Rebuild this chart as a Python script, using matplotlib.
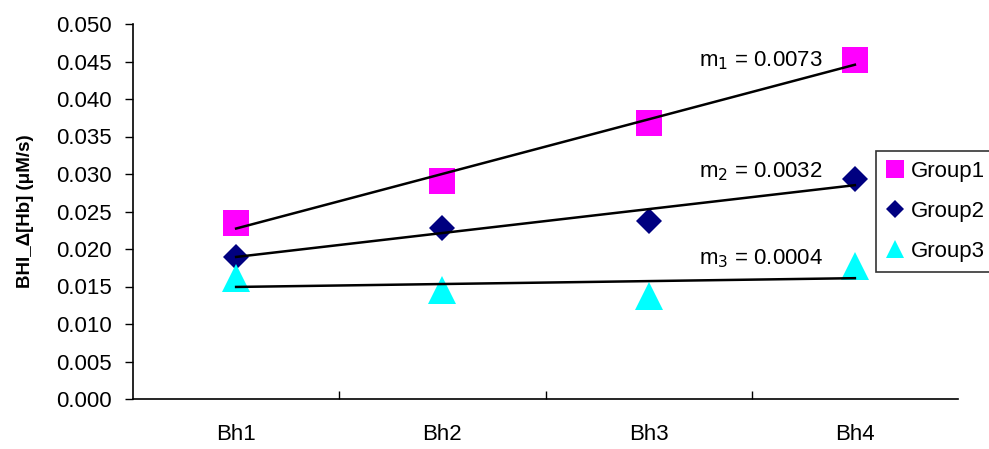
import numpy as np
import matplotlib.pyplot as plt

plt.rcParams['font.family'] = ['Liberation Sans', 'DejaVu Sans']

categories = ["Bh1", "Bh2", "Bh3", "Bh4"]
group1 = [0.0235, 0.0291, 0.0368, 0.0452]
group2 = [0.0190, 0.0228, 0.0238, 0.0293]
group3 = [0.0161, 0.0146, 0.0137, 0.0177]
slope_labels = ["m$_1$ = 0.0073", "m$_2$ = 0.0032", "m$_3$ = 0.0004"]
label_y = [0.0443, 0.0295, 0.0179]

fig = plt.figure(figsize=(9.89, 4.49), dpi=100)
ax = fig.add_axes([133 / 989, 1 - 399 / 449, 825 / 989, 375 / 449])

x = np.arange(len(categories)) + 0.5
series = [
    ("Group1", group1, "s", "#FF00FF", 18.5),
    ("Group2", group2, "D", "#000080", 13.5),
    ("Group3", group3, "^", "#00FFFF", 19.5),
]

for (name, vals, mk, col, ms), txt, ty in zip(series, slope_labels, label_y):
    ax.plot(x, vals, linestyle="none", marker=mk, color=col, markersize=ms,
            markeredgewidth=0, label=name, zorder=2, clip_on=False)
    k, b = np.polyfit(x, vals, 1)
    ax.plot([x[0], x[-1]], [k * x[0] + b, k * x[-1] + b], color="black",
            linewidth=1.8, zorder=3)
    ax.text(2.745, ty, txt, fontsize=16, ha="left", va="baseline")

ax.set_xlim(0, 4)
ax.set_ylim(0, 0.05)
ax.set_yticks(np.arange(0, 0.0501, 0.005))
ax.set_yticklabels([f"{v:.3f}" for v in np.arange(0, 0.0501, 0.005)])
ax.set_xticks(x)
ax.set_xticklabels(categories)
ax.set_xticks([1, 2, 3], minor=True)
ax.tick_params(axis="x", which="major", length=0, pad=18, labelsize=16)
ax.tick_params(axis="x", which="minor", direction="in", length=6, width=1)
ax.tick_params(axis="y", direction="out", length=6, width=1, labelsize=16,
               pad=9)
for s in ["top", "right"]:
    ax.spines[s].set_visible(False)
for s in ["left", "bottom"]:
    ax.spines[s].set_linewidth(1.2)

ax.set_ylabel("BHI_Δ[Hb] (μM/s)", fontsize=13.5, fontweight="bold",
              labelpad=16)

leg = fig.legend(loc="upper left", bbox_to_anchor=(876 / 989, 1 - 151 / 449),
                 fontsize=16, frameon=True, fancybox=False, edgecolor="black",
                 borderaxespad=0, handlelength=0.8, handletextpad=0.3,
                 labelspacing=0.85, borderpad=0.45, markerscale=0.7)
leg.get_frame().set_linewidth(1.2)

fig.savefig("out.png", dpi=100)
